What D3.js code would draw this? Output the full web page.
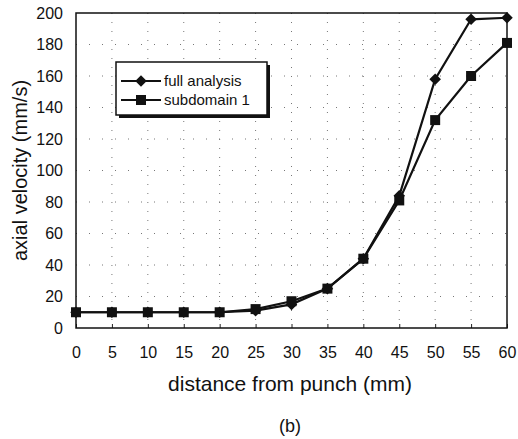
<!DOCTYPE html>
<html>
<head>
<meta charset="utf-8">
<script src="https://cdn.jsdelivr.net/npm/d3@7"></script>
<style>
  body { margin: 0; background: #fff; }
  text { font-family: "Liberation Sans", Arial, sans-serif; fill: #111; }
</style>
</head>
<body>
<div id="chart"></div>
<script>
// Data
const distance = [0, 5, 10, 15, 20, 25, 30, 35, 40, 45, 50, 55, 60];
const fullAnalysis = [10, 10, 10, 10, 10, 11, 15, 25, 44, 84, 158, 196, 197];
const subdomain1 = [10, 10, 10, 10, 10, 12, 17, 25, 44, 81, 132, 160, 181];
const yTicks = [0, 20, 40, 60, 80, 100, 120, 140, 160, 180, 200];

const margin = { top: 13, right: 11, bottom: 111, left: 76 };
const width = 518 - margin.left - margin.right;
const height = 439 - margin.top - margin.bottom;

const svg = d3.select("#chart")
    .append("svg")
    .attr("width", 518)
    .attr("height", 439);

const g = svg.append("g")
    .attr("transform", `translate(${margin.left}, ${margin.top})`);

const xScale = d3.scaleLinear().domain([0, 60]).range([0, width]);
const yScale = d3.scaleLinear().domain([0, 200]).range([height, 0]);

// Dotted grid
g.append("g")
    .selectAll("line")
    .data(distance.slice(1, -1))
    .enter()
    .append("line")
    .attr("x1", d => xScale(d)).attr("x2", d => xScale(d))
    .attr("y1", 0).attr("y2", height)
    .attr("stroke", "#777")
    .attr("stroke-width", 1)
    .attr("stroke-dasharray", "1,8");

g.append("g")
    .selectAll("line")
    .data(yTicks.slice(1, -1))
    .enter()
    .append("line")
    .attr("x1", 0).attr("x2", width)
    .attr("y1", d => yScale(d)).attr("y2", d => yScale(d))
    .attr("stroke", "#777")
    .attr("stroke-width", 1)
    .attr("stroke-dasharray", "1,12");

// Axes
const xAxis = g.append("g")
    .attr("transform", `translate(0, ${height})`)
    .call(d3.axisBottom(xScale).tickValues(distance).tickSize(-4).tickPadding(19));
const yAxis = g.append("g")
    .call(d3.axisLeft(yScale).tickValues(yTicks).tickSize(0).tickPadding(13));

[xAxis, yAxis].forEach(a => {
    a.select(".domain").remove();
    a.selectAll("line").attr("stroke", "#222");
    a.selectAll("text").style("font-size", "16px").style("fill", "#111");
});

// Frame
g.append("rect")
    .attr("width", width)
    .attr("height", height)
    .attr("fill", "none")
    .attr("stroke", "#111")
    .attr("stroke-width", 1.5);

// Lines
const line = d3.line()
    .x((d, i) => xScale(distance[i]))
    .y(d => yScale(d));

[fullAnalysis, subdomain1].forEach(series => {
    g.append("path")
        .datum(series)
        .attr("fill", "none")
        .attr("stroke", "#111")
        .attr("stroke-width", 2.2)
        .attr("d", line);
});

// Markers
const diamond = d3.symbol().type(d3.symbolDiamond2).size(85);
const square = d3.symbol().type(d3.symbolSquare).size(100);

g.selectAll(".diamond")
    .data(fullAnalysis)
    .enter()
    .append("path")
    .attr("class", "diamond")
    .attr("d", diamond)
    .attr("transform", (d, i) => `translate(${xScale(distance[i])}, ${yScale(d)})`)
    .attr("fill", "#111");

g.selectAll(".square")
    .data(subdomain1)
    .enter()
    .append("path")
    .attr("class", "square")
    .attr("d", square)
    .attr("transform", (d, i) => `translate(${xScale(distance[i])}, ${yScale(d)})`)
    .attr("fill", "#111");

// Legend
const legend = svg.append("g").attr("transform", "translate(116, 62)");
legend.append("rect")
    .attr("x", 3).attr("y", 3)
    .attr("width", 151).attr("height", 53)
    .attr("fill", "#111");
legend.append("rect")
    .attr("width", 151).attr("height", 53)
    .attr("fill", "#fff")
    .attr("stroke", "#111")
    .attr("stroke-width", 1.5);

const legendItems = [
    { label: "full analysis", symbol: diamond },
    { label: "subdomain 1", symbol: square }
];
legendItems.forEach((item, i) => {
    const row = legend.append("g").attr("transform", `translate(0, ${19 + i * 19})`);
    row.append("line")
        .attr("x1", 5).attr("x2", 45)
        .attr("stroke", "#111").attr("stroke-width", 2);
    row.append("path")
        .attr("d", item.symbol)
        .attr("transform", "translate(25, 0)")
        .attr("fill", "#111");
    row.append("text")
        .attr("x", 48).attr("dy", "0.35em")
        .style("font-size", "15px")
        .text(item.label);
});

// Axis titles
svg.append("text")
    .attr("transform", `translate(27, ${margin.top + height / 2}) rotate(-90)`)
    .attr("text-anchor", "middle")
    .style("font-size", "20px")
    .text("axial velocity (mm/s)");

svg.append("text")
    .attr("x", 290)
    .attr("y", 391)
    .attr("text-anchor", "middle")
    .style("font-size", "21px")
    .text("distance from punch (mm)");

svg.append("text")
    .attr("x", 290)
    .attr("y", 432)
    .attr("text-anchor", "middle")
    .style("font-size", "18px")
    .text("(b)");
</script>
</body>
</html>
